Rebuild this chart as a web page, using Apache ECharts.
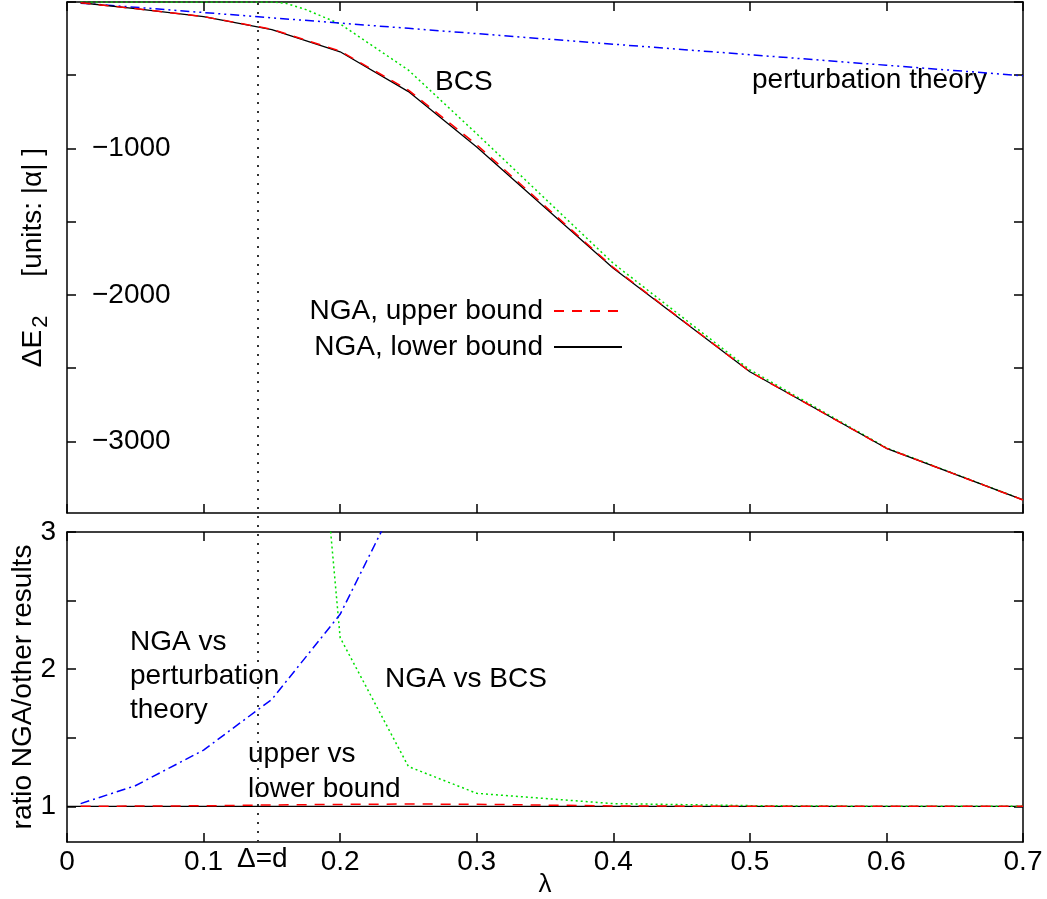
<!DOCTYPE html>
<html>
<head>
<meta charset="utf-8">
<script src="https://cdn.jsdelivr.net/npm/echarts@6/dist/echarts.min.js"></script>
<style>html,body{margin:0;padding:0;background:#fff}#c{width:1047px;height:899px}</style>
</head>
<body>
<div id="c"></div>
<script>
// ---- data ----
const lambdaNGA = [0.01, 0.05, 0.1, 0.15, 0.2, 0.25, 0.3, 0.4, 0.5, 0.6, 0.7];
const ngaLower  = [-5, -45, -100, -188, -340, -612, -990, -1819, -2525, -3048, -3401];
const ngaUpper  = [-5, -45, -100, -186, -335, -602, -975, -1813, -2525, -3048, -3401];
const lambdaPT  = [0.01, 0.05, 0.1, 0.15, 0.2, 0.25, 0.3, 0.4, 0.5, 0.6, 0.7];
const pertTheory = [-8, -36, -72, -108, -144, -180, -216, -288, -360, -432, -504];
const lambdaBCS = [0.01, 0.05, 0.1, 0.15, 0.16, 0.175, 0.2, 0.25, 0.3, 0.4, 0.5, 0.6, 0.7];
const bcs       = [0, 0, 0, 0, -8, -52, -150, -465, -900, -1785, -2512, -3045, -3400];

const lambdaRatioPT = [0.01, 0.05, 0.1, 0.15, 0.2, 0.25];
const ratioPT       = [1.02, 1.15, 1.41, 1.78, 2.40, 3.4];
const lambdaRatioBCS = [0.175, 0.2, 0.25, 0.3, 0.4, 0.5, 0.6, 0.7];
const ratioBCS       = [5.0, 2.23, 1.29, 1.095, 1.02, 1.005, 1.0, 1.0];
const lambdaRatioUL = [0.01, 0.05, 0.1, 0.15, 0.2, 0.25, 0.3, 0.4, 0.5, 0.6, 0.7];
const ratioUL       = [1.0, 1.002, 1.004, 1.01, 1.014, 1.017, 1.015, 1.003, 1.0, 1.0, 1.0];
const lambdaOne = [0, 0.7];
const ratioOne  = [1, 1];

const deltaEqualsD = 0.143;

const xTicks = [0, 0.1, 0.2, 0.3, 0.4, 0.5, 0.6, 0.7];
const topYTicks = [-3000, -2500, -2000, -1500, -1000, -500, 0];
const topYLabels = [-3000, -2000, -1000];
const botYTicks = [1, 1.5, 2, 2.5, 3];
const botYLabels = [1, 2, 3];

// ---- helpers ----
const zip = (xs, ys) => xs.map((x, i) => [x, ys[i]]);
const FONT = '"Liberation Sans", Arial, Helvetica, sans-serif';
const axisLineStyle = { show: true, onZero: false, lineStyle: { color: '#000', width: 1.5 } };
const tickStyle = (vals) => ({ show: true, inside: true, length: 9, customValues: vals, lineStyle: { color: '#000', width: 1.5 } });

function xAx(grid, pos, labels) {
  return {
    type: 'value', gridIndex: grid, position: pos, min: 0, max: 0.7,
    axisLine: axisLineStyle, axisTick: tickStyle(xTicks), splitLine: { show: false },
    axisLabel: labels ? { show: true, customValues: xTicks, margin: 6, fontSize: 28, color: '#000', fontFamily: FONT,
      formatter: v => (v === 0 ? '0' : String(Math.round(v * 10) / 10)) } : { show: false }
  };
}

const option = {
  animation: false,
  backgroundColor: '#fff',
  grid: [
    { left: 67, right: 24, top: 2, bottom: 386, containLabel: false, outerBoundsMode: 'none' },
    { left: 67, right: 24, top: 532, bottom: 57, containLabel: false, outerBoundsMode: 'none' },
    { left: 67, right: 24, top: 2, bottom: 57, containLabel: false, outerBoundsMode: 'none' }
  ],
  xAxis: [
    xAx(0, 'bottom', false),
    xAx(0, 'top', false),
    Object.assign(xAx(1, 'bottom', true), { name: 'λ', nameLocation: 'middle', nameGap: 30, nameMoveOverlap: false,
      nameTextStyle: { fontSize: 26, color: '#000', fontFamily: FONT } }),
    xAx(1, 'top', false),
    { type: 'value', gridIndex: 2, min: 0, max: 0.7, axisLine: { show: false }, axisTick: { show: false },
      splitLine: { show: false },
      axisLabel: { show: true, customValues: [deltaEqualsD], margin: 3, fontSize: 28, color: '#000', fontFamily: FONT,
        formatter: () => 'Δ=d' } }
  ],
  yAxis: [
    { type: 'value', gridIndex: 0, position: 'left', min: -3490, max: 0,
      axisLine: axisLineStyle, axisTick: tickStyle(topYTicks), splitLine: { show: false },
      axisLabel: { show: true, inside: true, customValues: topYLabels, margin: 25, fontSize: 28, color: '#000', fontFamily: FONT,
        formatter: v => '−' + Math.abs(v) },
      name: '{a|ΔE}{s|2}{a|     [units: |α| ]}', nameLocation: 'middle', nameRotate: 90, nameGap: 15, nameMoveOverlap: false,
      nameTextStyle: { color: '#000', fontFamily: FONT, fontSize: 28,
        rich: { a: { fontSize: 28, fontFamily: FONT, color: '#000' },
                s: { fontSize: 22, fontFamily: FONT, color: '#000', padding: [16, 0, 0, 2] } } } },
    { type: 'value', gridIndex: 0, position: 'right', min: -3490, max: 0,
      axisLine: axisLineStyle, axisTick: tickStyle(topYTicks), splitLine: { show: false }, axisLabel: { show: false } },
    { type: 'value', gridIndex: 1, position: 'left', min: 0.74, max: 3,
      axisLine: axisLineStyle, axisTick: tickStyle(botYTicks), splitLine: { show: false },
      axisLabel: { show: true, customValues: botYLabels, margin: 11, fontSize: 28, color: '#000', fontFamily: FONT },
      name: 'ratio NGA/other results', nameLocation: 'middle', nameRotate: 90, nameGap: 30, nameMoveOverlap: false,
      nameTextStyle: { fontSize: 28, color: '#000', fontFamily: FONT } },
    { type: 'value', gridIndex: 1, position: 'right', min: 0.74, max: 3,
      axisLine: axisLineStyle, axisTick: tickStyle(botYTicks), splitLine: { show: false }, axisLabel: { show: false } },
    { type: 'value', gridIndex: 2, min: 0, max: 1, show: false }
  ],
  legend: {
    orient: 'vertical', right: 419, top: 292, align: 'right', selectedMode: false,
    itemWidth: 68, itemHeight: 14, itemGap: 8,
    itemStyle: { opacity: 0 },
    textStyle: { fontSize: 28, color: '#000', fontFamily: FONT, padding: [0, 6, 0, 0] },
    data: ['NGA, upper bound', 'NGA, lower bound']
  },
  series: [
    { name: 'NGA, lower bound', type: 'line', xAxisIndex: 0, yAxisIndex: 0, data: zip(lambdaNGA, ngaLower),
      symbol: 'none', lineStyle: { color: '#000', width: 1.3 }, itemStyle: { color: '#000' }, z: 3 },
    { name: 'NGA, upper bound', type: 'line', xAxisIndex: 0, yAxisIndex: 0, data: zip(lambdaNGA, ngaUpper),
      symbol: 'none', lineStyle: { color: '#ff0000', width: 1.5, type: [10, 8] }, itemStyle: { color: '#ff0000' }, z: 4 },
    { name: 'BCS', type: 'line', xAxisIndex: 0, yAxisIndex: 0, data: zip(lambdaBCS, bcs),
      symbol: 'none', lineStyle: { color: '#00e000', width: 1.5, type: [2, 3] }, z: 2 },
    { name: 'perturbation theory', type: 'line', xAxisIndex: 0, yAxisIndex: 0, data: zip(lambdaPT, pertTheory),
      symbol: 'none', lineStyle: { color: '#0000ff', width: 1.5, type: [9, 4, 2, 4, 2, 4] }, z: 2 },

    { name: 'one', type: 'line', xAxisIndex: 2, yAxisIndex: 2, data: zip(lambdaOne, ratioOne),
      symbol: 'none', lineStyle: { color: '#000', width: 1.3 }, z: 2 },
    { name: 'upper vs lower', type: 'line', xAxisIndex: 2, yAxisIndex: 2, data: zip(lambdaRatioUL, ratioUL),
      symbol: 'none', lineStyle: { color: '#ff0000', width: 1.5, type: [10, 8] }, z: 4 },
    { name: 'NGA vs BCS', type: 'line', xAxisIndex: 2, yAxisIndex: 2, data: zip(lambdaRatioBCS, ratioBCS),
      symbol: 'none', lineStyle: { color: '#00e000', width: 1.5, type: [2, 3] }, z: 3 },
    { name: 'NGA vs PT', type: 'line', xAxisIndex: 2, yAxisIndex: 2, data: zip(lambdaRatioPT, ratioPT),
      symbol: 'none', lineStyle: { color: '#0000ff', width: 1.5, type: [9, 4, 2, 4] }, z: 3 },

    { name: 'delta', type: 'line', xAxisIndex: 4, yAxisIndex: 4, data: [], silent: true,
      markLine: { symbol: 'none', silent: true, animation: false, label: { show: false },
        lineStyle: { color: '#333', width: 2, type: [2, 7] }, data: [{ xAxis: deltaEqualsD }] } }
  ],
  graphic: [
    { type: 'text', x: 435, y: 82, style: { text: 'BCS', font: '28px ' + FONT, fill: '#000', textVerticalAlign: 'middle' } },
    { type: 'text', x: 752, y: 80, style: { text: 'perturbation theory', font: '28px ' + FONT, fill: '#000', textVerticalAlign: 'middle' } },
    { type: 'text', x: 130, y: 676, style: { text: 'NGA vs\nperturbation\ntheory', font: '28px ' + FONT, fill: '#000', lineHeight: 34, textVerticalAlign: 'middle' } },
    { type: 'text', x: 248, y: 772, style: { text: 'upper vs\nlower bound', font: '28px ' + FONT, fill: '#000', lineHeight: 35, textVerticalAlign: 'middle' } },
    { type: 'text', x: 385, y: 679, style: { text: 'NGA vs BCS', font: '28px ' + FONT, fill: '#000', textVerticalAlign: 'middle' } }
  ]
};

const chart = echarts.init(document.getElementById('c'), null, { renderer: 'canvas' });
chart.setOption(option);
</script>
</body>
</html>
